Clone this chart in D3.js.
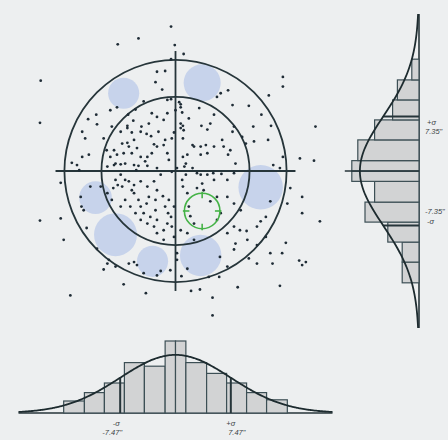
<!DOCTYPE html>
<html>
<head>
<meta charset="utf-8">
<script src="https://cdn.jsdelivr.net/npm/d3@7"></script>
<style>
  html, body { margin: 0; padding: 0; background: #edeff0; }
  svg { display: block; }
  text { font-family: "Liberation Sans", Arial, sans-serif; font-style: italic; fill: #3a3f44; }
</style>
</head>
<body>
<svg id="chart" width="448" height="440"></svg>
<script>
// Impact offsets from the aim point, in arc-seconds (x to the right, y upward)
const shotX = [-0.6,-7.8,-5.0,-0.1,-18.2,-18.3,1.1,-0.6,14.5,14.5,12.6,18.9,16.8,18.7,17.1,17.1,19.5,-18.3,-15.5,-15.1,14.9,14.4,16.7,17.6,17.1,14.1,8.4,5.0,5.0,-14.2,-4.0,-7.0,3.3,2.1,
  -2.5,-1.4,-1.8,-2.7,7.1,6.1,5.6,9.9,7.7,11.6,10.5,12.9,12.5,10.6,14.5,13.2,14.1,15.5,15.1,12.8,12.2,11.5,12.2,11.0,9.6,8.7,9.7,11.0,12.8,7.9,9.9,11.0,13.1,7.0,6.0,4.5,5.9,0.8,1.6,0.2,0.2,-0.7,-2.0,-2.5,-4.3,-5.2,-6.3,-5.6,-8.1,-9.2,-9.0,-9.7,-10.6,-12.0,-12.4,-12.7,-12.8,-11.5,-15.5,-14.0,-13.3,-13.0,-12.6,-11.7,-12.6,-11.8,-10.7,-10.6,-12.2,-8.8,-7.9,-6.4,-5.4,-5.7,-4.3,-1.1,-0.6,0.5,-4.6,-6.5,-5.9,
  0.7,0.7,0.0,0.9,3.2,1.8,0.7,1.0,0.7,1.1,-0.2,-0.5,1.0,4.7,5.2,4.3,3.5,7.9,7.7,6.3,6.5,7.4,7.1,8.1,9.5,9.0,4.1,3.4,2.5,5.2,4.3,3.4,1.6,1.0,1.4,1.2,2.3,0.2,-0.5,1.4,2.9,3.4,4.3,5.1,5.2,6.2,7.0,7.9,-2.5,-3.8,-4.1,-5.0,-5.3,-5.6,-6.8,-7.4,-8.3,-9.2,-8.1,-7.8,-7.2,-6.3,-5.6,-4.7,-3.8,-2.9,-2.0,-2.5,-3.6,-2.7,-1.7,-0.9,-1.4,-1.0,-0.6,-0.2,0.9,1.0,1.6,2.9,3.6,3.8,4.7,1.8,2.0,2.5,5.6,7.0,7.9,8.8,6.1,5.6,7.0,7.9,8.1,2.5,1.6,0.7,-0.2,-1.6,-2.5,-2.9,-3.8,-4.7,-5.4,-6.1,-6.8,-7.4,-8.6,-9.2,-10.1,-4.7,-4.3,-3.4,-2.5,-1.1,-1.6,-0.5,-2.7,-3.9,-5.0,-5.6,-5.9,-6.8,-7.4,-8.4,
  -8.3,-7.9,-7.2,-6.5,-6.3,-7.0,-8.1,-5.6,-4.7,-3.9,-3.3,-2.9,-2.5,-3.2,-3.8,-4.7,-5.2,-5.9,-2.3,-1.6,-1.4,-1.1,-0.9,-9.3,-8.8,-9.7,-8.6,-7.4,-6.5,-3.6,-2.5,-3.2,-1.6,-1.1,2.3];
const shotY = [19.5,17.1,17.9,17.0,12.2,6.5,15.8,15.1,12.7,11.4,10.2,6.0,1.7,1.4,-3.5,-5.7,-6.8,-6.7,-6.4,-9.3,-9.7,-11.1,-12.1,-12.3,-12.7,-15.5,-15.7,-17.1,-19.5,-16.8,-16.5,-15.3,-16.0,-16.2,
  13.4,13.5,11.0,12.0,10.9,10.5,10.0,8.8,8.9,7.6,6.0,6.1,4.2,4.0,1.9,0.8,0.4,-2.3,-4.4,-4.1,-6.2,-6.8,-8.9,-7.5,-8.1,-8.0,-9.3,-10.0,-11.1,-10.6,-11.8,-12.5,-12.5,-12.9,-11.6,-14.3,-14.3,-14.2,-13.2,-12.0,-11.1,-13.4,-13.5,-14.1,-13.8,-12.7,-12.5,-12.3,-12.9,-12.5,-12.0,-13.3,-10.5,-7.7,-5.3,-4.8,-3.5,-2.1,-1.6,1.1,0.8,0.1,1.9,2.2,5.3,7.0,7.6,6.3,4.4,8.2,8.6,7.6,8.3,6.8,9.4,9.6,9.7,9.3,6.0,5.8,5.2,
  9.0,8.6,8.2,7.9,8.5,7.1,6.4,6.1,5.8,5.5,5.2,4.4,4.4,6.4,7.6,5.6,6.1,6.0,5.3,4.2,3.3,2.8,2.2,1.0,3.7,4.6,3.5,3.3,3.3,3.3,2.4,2.2,2.2,1.9,1.0,0.6,0.4,0.4,-0.1,-0.5,-0.3,-0.5,-0.5,-0.3,-1.2,-0.4,-1.2,-0.3,0.4,0.7,1.3,0.7,0.1,0.8,1.0,0.9,0.8,0.6,-1.2,-1.9,-2.1,-1.4,-1.9,-1.4,-2.1,-1.4,-0.5,-2.6,-3.5,-3.9,-3.4,-3.9,-4.8,-5.7,-6.2,-4.8,-1.2,-2.1,-3.0,-2.3,-1.7,-2.6,-4.1,-4.8,-6.1,-7.1,-3.5,-3.5,-4.4,-5.3,-5.7,-6.6,-8.4,-7.5,-9.8,-9.3,-8.4,-8.0,-8.9,-9.3,-8.4,-7.5,-7.1,-6.6,-5.7,-4.8,-3.9,-4.8,-3.9,-3.0,-2.1,-4.8,-5.7,-6.2,-6.6,-7.1,-8.0,-7.5,-5.3,-4.4,-3.9,-3.0,-2.6,-1.2,-0.5,-2.3,
  2.8,2.2,3.7,3.8,3.3,2.4,1.0,4.2,5.3,5.0,4.7,3.6,3.3,2.4,1.9,1.9,3.1,2.4,5.3,3.5,4.2,2.4,1.5,2.8,1.9,4.4,6.0,5.3,6.1,6.4,7.3,7.8,6.9,7.8,3.5];

// Scoring rings and aiming cross (arc-seconds)
const ringRadii = [10, 15];
const crossHalfLength = 16.2;

// Shaded zones: centre x, centre y, radius (arc-seconds)
const zoneX = [-7.0, 3.6, 11.5, -10.8, -8.1, -3.1, 3.4];
const zoneY = [10.5, 11.9, -2.2, -3.6, -8.6, -12.2, -11.4];
const zoneR = [2.1, 2.5, 3.0, 2.2, 2.9, 2.1, 2.8];

// Target marker
const targetX = [3.6];
const targetY = [-5.4];
const targetR = [2.4];

// Histogram bins (arc-seconds) and counts
const binEdges = [-15.1, -12.3, -9.6, -6.9, -4.2, -1.4, 0, 1.4, 4.2, 6.9, 9.6, 12.3, 15.1];
const countsX = [10, 17, 25, 42, 39, 60, 60, 42, 33, 25, 17, 11];
const countsY = [14, 14, 26, 45, 37, 56, 56, 51, 37, 22, 18, 6];

// Normal fit parameters
const sigmaX = 7.47;
const sigmaY = 7.35;
const sampleSize = 330;
const binWidth = 2.75;
const curveExtent = 21.2;

// Sigma labels
const labelsX = [["-σ", "-7.47\""], ["+σ", "7.47\""]];
const labelsY = [["+σ", "7.35\""], ["-7.35\"", "-σ"]];

const svg = d3.select("#chart");
const ink = "#26353a";

const cx = 175.5, cy = 171, span = 157;
const x = d3.scaleLinear().domain([-curveExtent, curveExtent]).range([cx - span, cx + span]);
const y = d3.scaleLinear().domain([-curveExtent, curveExtent]).range([cy + span, cy - span]);
const pr = r => x(r) - x(0);

// ---------- scatter panel ----------
const plot = svg.append("g");

plot.selectAll("circle.zone")
  .data(zoneX.map((v, i) => ({ x: v, y: zoneY[i], r: zoneR[i] })))
  .join("circle").attr("class", "zone")
  .attr("cx", d => x(d.x)).attr("cy", d => y(d.y)).attr("r", d => pr(d.r))
  .attr("fill", "#c3d0ea").attr("opacity", 0.92);

plot.selectAll("circle.ring")
  .data(ringRadii)
  .join("circle").attr("class", "ring")
  .attr("cx", x(0)).attr("cy", y(0)).attr("r", d => pr(d))
  .attr("fill", "none").attr("stroke", ink).attr("stroke-width", 1.8);

plot.append("line")
  .attr("x1", x(-crossHalfLength)).attr("x2", x(crossHalfLength))
  .attr("y1", y(0)).attr("y2", y(0))
  .attr("stroke", ink).attr("stroke-width", 1.8);
plot.append("line")
  .attr("x1", x(0)).attr("x2", x(0))
  .attr("y1", y(crossHalfLength)).attr("y2", y(-crossHalfLength))
  .attr("stroke", ink).attr("stroke-width", 1.8);

plot.selectAll("circle.shot")
  .data(shotX.map((v, i) => ({ x: v, y: shotY[i] })))
  .join("circle").attr("class", "shot")
  .attr("cx", d => x(d.x)).attr("cy", d => y(d.y)).attr("r", 1.4)
  .attr("fill", "#1f2c36");

// target marker with inward ticks
const tg = plot.append("g");
const tx = x(targetX[0]), ty = y(targetY[0]), tr = pr(targetR[0]);
tg.append("circle").attr("cx", tx).attr("cy", ty).attr("r", tr)
  .attr("fill", "none").attr("stroke", "#45b347").attr("stroke-width", 1.6);
[[0, -1], [1, 0], [0, 1], [-1, 0]].forEach(([dx, dy]) => {
  tg.append("line")
    .attr("x1", tx + dx * (tr + 1.5)).attr("y1", ty + dy * (tr + 1.5))
    .attr("x2", tx + dx * (tr - 5)).attr("y2", ty + dy * (tr - 5))
    .attr("stroke", "#45b347").attr("stroke-width", 1.6);
});

// ---------- normal curve helper ----------
function normal(sigma) {
  const peak = sampleSize * binWidth / (sigma * Math.sqrt(2 * Math.PI));
  return v => peak * Math.exp(-(v * v) / (2 * sigma * sigma));
}
const samples = d3.range(-curveExtent, curveExtent + 0.001, 0.2);
const bins = binEdges.slice(0, -1).map((e, i) => ({ lo: e, hi: binEdges[i + 1] }));

// ---------- horizontal histogram (bottom) ----------
const baseB = 413;
const hB = d3.scaleLinear().domain([0, 60]).range([baseB, baseB - 72]);
const fX = normal(sigmaX);
const gB = svg.append("g");

gB.append("line").attr("x1", x(-curveExtent)).attr("x2", x(curveExtent))
  .attr("y1", baseB).attr("y2", baseB).attr("stroke", ink).attr("stroke-width", 1.6);

gB.selectAll("rect")
  .data(bins.map((b, i) => ({ ...b, c: countsX[i] })))
  .join("rect")
  .attr("x", d => x(d.lo)).attr("width", d => x(d.hi) - x(d.lo))
  .attr("y", d => hB(d.c)).attr("height", d => baseB - hB(d.c))
  .attr("fill", "#d2d3d4").attr("stroke", "#3c4f55").attr("stroke-width", 1.2);

[-sigmaX, sigmaX].forEach(s => {
  gB.append("line").attr("x1", x(s)).attr("x2", x(s))
    .attr("y1", baseB).attr("y2", hB(fX(s)))
    .attr("stroke", ink).attr("stroke-width", 2);
});

gB.append("path")
  .datum(samples)
  .attr("d", d3.line().x(v => x(v)).y(v => hB(fX(v))).curve(d3.curveBasis))
  .attr("fill", "none").attr("stroke", "#1d2b2f").attr("stroke-width", 1.8);

[-sigmaX, sigmaX].forEach((s, i) => {
  const t = gB.append("text").attr("font-size", 7.5).attr("text-anchor", "middle");
  t.append("tspan").attr("x", x(s) - 4 + i * 4).attr("y", 426).text(labelsX[i][0]);
  t.append("tspan").attr("x", x(s) - 8 + i * 14).attr("y", 435).text(labelsX[i][1]);
});

// ---------- vertical histogram (right) ----------
const baseR = 419;
const wR = d3.scaleLinear().domain([0, 60]).range([baseR, baseR - 72]);
const fY = normal(sigmaY);
const gR = svg.append("g");

gR.append("line").attr("x1", baseR).attr("x2", baseR)
  .attr("y1", y(curveExtent)).attr("y2", y(-curveExtent))
  .attr("stroke", ink).attr("stroke-width", 1.6);

gR.selectAll("rect")
  .data(bins.map((b, i) => ({ ...b, c: countsY[i] })))
  .join("rect")
  .attr("y", d => y(d.hi)).attr("height", d => y(d.lo) - y(d.hi))
  .attr("x", d => wR(d.c)).attr("width", d => baseR - wR(d.c))
  .attr("fill", "#d2d3d4").attr("stroke", "#3c4f55").attr("stroke-width", 1.2);

// mean line
gR.append("line").attr("x1", baseR).attr("x2", wR(d3.max(countsY)) - 7)
  .attr("y1", y(0)).attr("y2", y(0)).attr("stroke", ink).attr("stroke-width", 1.4);

[sigmaY, -sigmaY].forEach(s => {
  gR.append("line").attr("y1", y(s)).attr("y2", y(s))
    .attr("x1", baseR).attr("x2", wR(fY(s)))
    .attr("stroke", ink).attr("stroke-width", 2);
});

gR.append("path")
  .datum(samples)
  .attr("d", d3.line().y(v => y(v)).x(v => wR(fY(v))).curve(d3.curveBasis))
  .attr("fill", "none").attr("stroke", "#1d2b2f").attr("stroke-width", 1.8);

[sigmaY, -sigmaY].forEach((s, i) => {
  const t = gR.append("text").attr("font-size", 7.5).attr("text-anchor", "start");
  const y0 = i === 0 ? y(s) + 8 : y(s) - 11;
  t.append("tspan").attr("x", i === 0 ? 427 : 425).attr("y", y0).text(labelsY[i][0]);
  t.append("tspan").attr("x", i === 0 ? 425 : 427).attr("y", y0 + 9.5).text(labelsY[i][1]);
});
</script>
</body>
</html>
